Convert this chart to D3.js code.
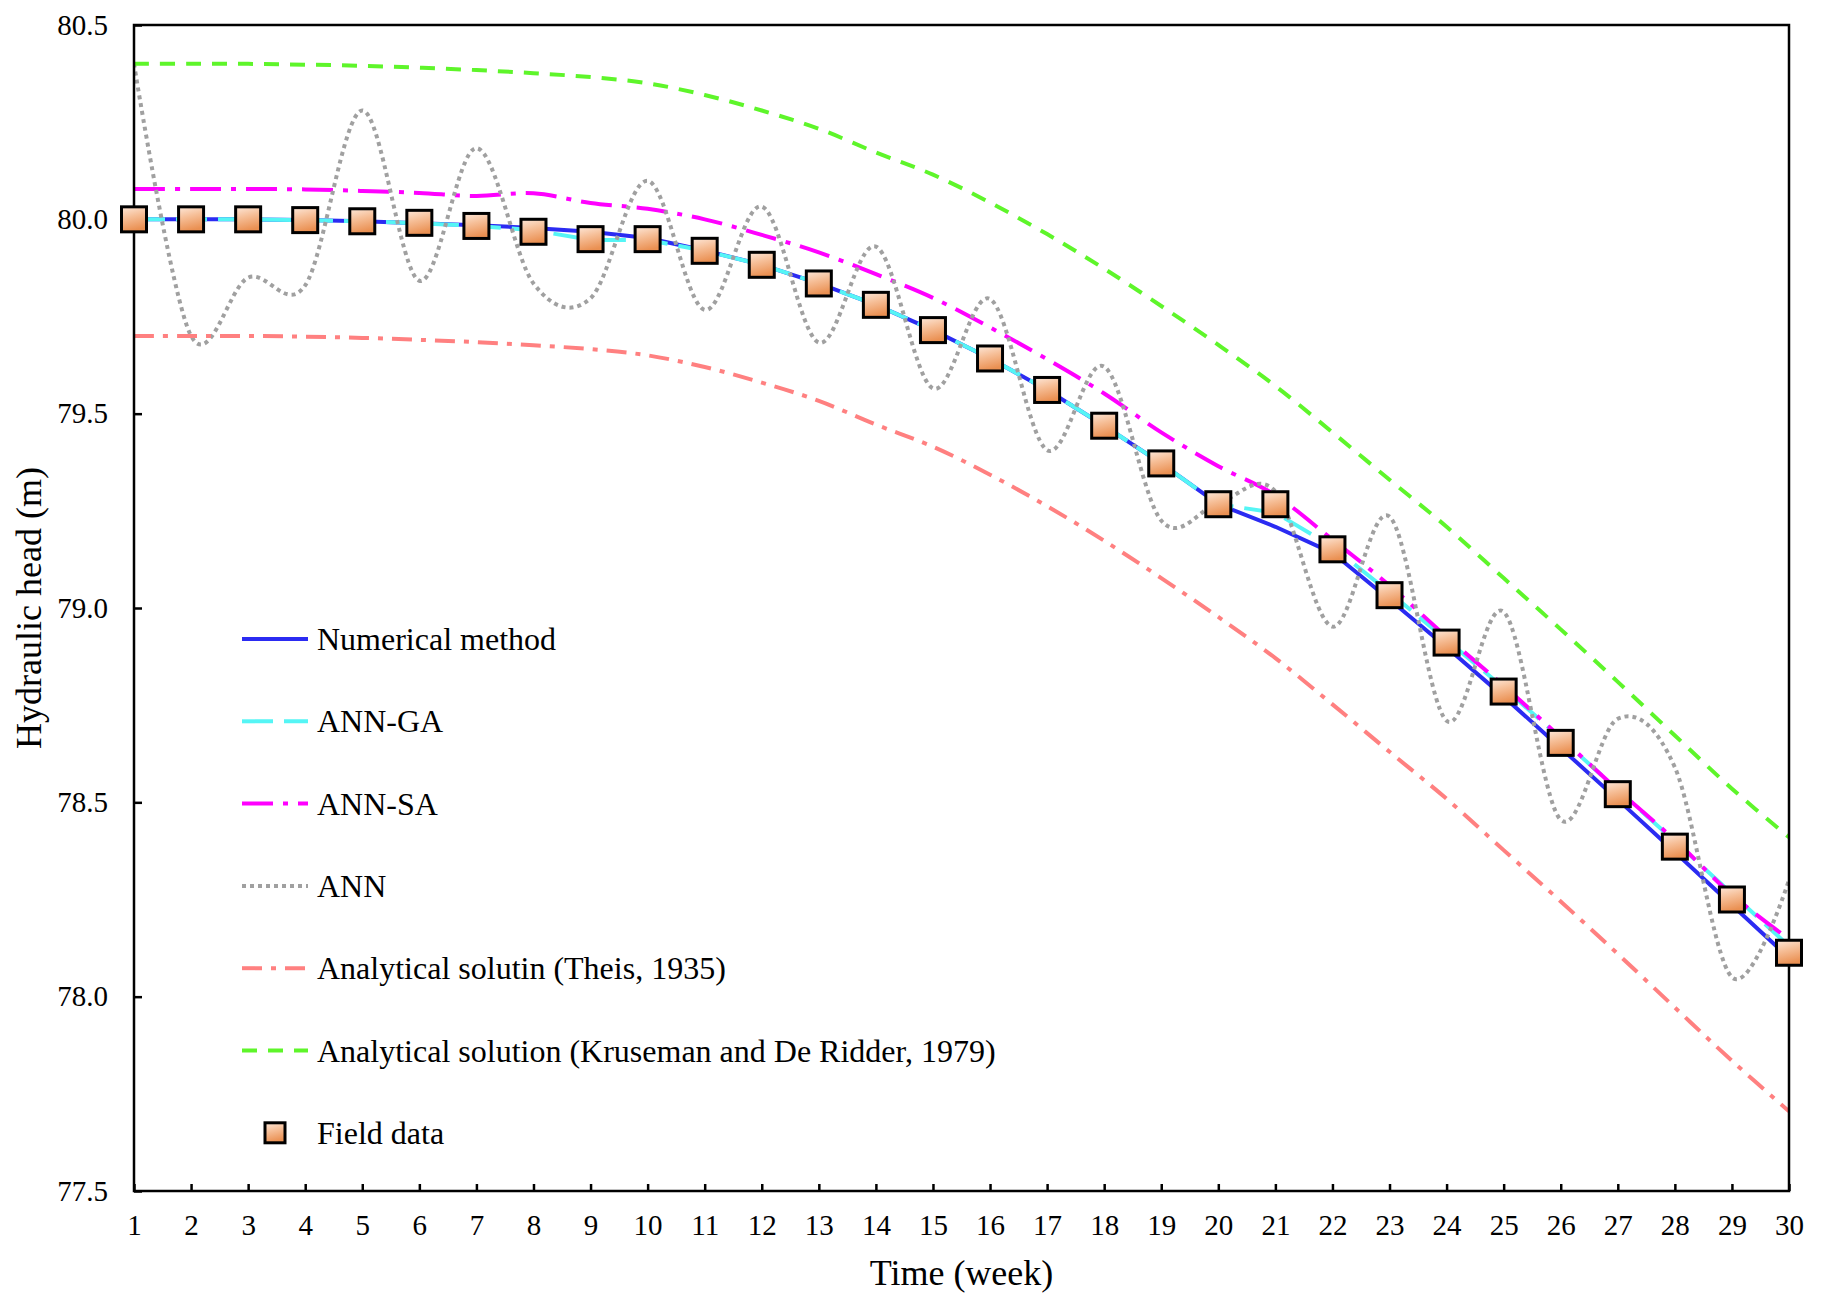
<!DOCTYPE html>
<html><head><meta charset="utf-8">
<script src="https://cdn.jsdelivr.net/npm/d3@7"></script>
<style>
body{margin:0;background:#fff}
svg{display:block}
text{font-family:"Liberation Serif","Times New Roman",serif;fill:#000}
</style>
</head><body>
<svg id="chart" width="1827" height="1296"></svg>
<script>
// ---------- data ----------
const weeks = [1,2,3,4,5,6,7,8,9,10,11,12,13,14,15,16,17,18,19,20,21,22,23,24,25,26,27,28,29,30];
const yTicks = [77.5,78.0,78.5,79.0,79.5,80.0,80.5];

const fieldData = [80.0,80.0,80.0,79.998,79.995,79.991,79.983,79.968,79.949,79.949,79.919,79.883,79.835,79.78,79.715,79.642,79.561,79.469,79.372,79.267,79.267,79.151,79.033,78.911,78.785,78.653,78.521,78.386,78.25,78.113];
const numericalMethod = [80.0,80.0,80.0,79.998,79.995,79.99,79.985,79.978,79.968,79.952,79.92,79.883,79.835,79.78,79.715,79.642,79.561,79.469,79.372,79.267,79.209,79.142,79.022,78.899,78.772,78.64,78.507,78.372,78.236,78.10];
const annGA = [80.0,80.0,80.0,79.998,79.995,79.99,79.983,79.972,79.947,79.947,79.919,79.883,79.835,79.78,79.715,79.642,79.561,79.469,79.372,79.267,79.245,79.158,79.04,78.918,78.795,78.665,78.532,78.40,78.265,78.13];
const annSA = [80.078,80.078,80.078,80.077,80.073,80.068,80.060,80.067,80.042,80.027,80.0,79.96,79.915,79.859,79.798,79.722,79.64,79.552,79.452,79.365,79.29,79.176,79.058,78.926,78.80,78.667,78.532,78.403,78.262,78.148];
const ann = [80.40,79.70,79.85,79.83,80.28,79.842,80.183,79.835,79.797,80.099,79.767,80.033,79.683,79.93,79.565,79.795,79.406,79.621,79.225,79.27,79.30,78.952,79.235,78.71,78.99,78.455,78.715,78.59,78.05,78.30];
const theis = [79.70,79.70,79.70,79.698,79.695,79.69,79.684,79.676,79.666,79.65,79.62,79.58,79.533,79.472,79.415,79.343,79.262,79.173,79.077,78.977,78.871,78.752,78.63,78.509,78.377,78.245,78.11,77.972,77.835,77.705];
const kruseman = [80.40,80.40,80.40,80.398,80.395,80.39,80.384,80.376,80.366,80.35,80.32,80.28,80.233,80.172,80.115,80.043,79.962,79.873,79.777,79.677,79.571,79.452,79.33,79.209,79.077,78.945,78.81,78.672,78.535,78.41];

const seriesNames = ["Numerical method","ANN-GA","ANN-SA","ANN","Analytical solutin (Theis, 1935)","Analytical solution (Kruseman and De Ridder, 1979)","Field data"];

// ---------- styles ----------
const lineSeries = [
  {name: seriesNames[0], values: numericalMethod, color:"#2b2bf2", dash:null, curve:d3.curveLinear},
  {name: seriesNames[1], values: annGA, color:"#55f5f5", dash:"31,11", curve:d3.curveLinear},
  {name: seriesNames[2], values: annSA, color:"#ff00ff", dash:"31,10,5,10", curve:d3.curveCardinal.tension(0)},
  {name: seriesNames[3], values: ann, color:"#a0a0a0", dash:"4,4", curve:d3.curveCardinal.tension(0)},
  {name: seriesNames[4], values: theis, color:"#ff8080", dash:"20,9,5,9", curve:d3.curveCardinal.tension(0)},
  {name: seriesNames[5], values: kruseman, color:"#5ef52a", dash:"15,11", curve:d3.curveCardinal.tension(0)}
];

const svg = d3.select("#chart");
const X0 = 134, X1 = 1789, Y0 = 25, Y1 = 1191;
const x = d3.scaleLinear().domain([1,30]).range([X0,X1]);
const y = d3.scaleLinear().domain([77.5,80.5]).range([Y1,Y0]);

// gradient for markers
const defs = svg.append("defs");
const grad = defs.append("linearGradient").attr("id","mk").attr("x1","0").attr("y1","0").attr("x2","0.25").attr("y2","1");
grad.append("stop").attr("offset","0%").attr("stop-color","#fde8da");
grad.append("stop").attr("offset","45%").attr("stop-color","#f6bf98");
grad.append("stop").attr("offset","100%").attr("stop-color","#ea9052");

// axes
const xAxis = d3.axisBottom(x).tickValues(weeks).tickSizeInner(-7).tickSizeOuter(0).tickPadding(23).tickFormat(d3.format("d"));
const gx = svg.append("g").attr("transform",`translate(0,${Y1})`).call(xAxis);
const yAxis = d3.axisLeft(y).tickValues(yTicks).tickSizeInner(-8).tickSizeOuter(0).tickPadding(26).tickFormat(d3.format(".1f"));
const gy = svg.append("g").attr("transform",`translate(${X0},0)`).call(yAxis);
[gx,gy].forEach(g=>{
  g.attr("font-family","'Liberation Serif',serif");
  g.select(".domain").remove();
  g.selectAll(".tick line").attr("stroke","#000").attr("stroke-width",2.5);
  g.selectAll(".tick text").style("font-size","29px").style("font-family","'Liberation Serif',serif").attr("fill","#000");
});

// series lines
const clip = defs.append("clipPath").attr("id","clip").append("rect").attr("x",X0).attr("y",Y0).attr("width",X1-X0).attr("height",Y1-Y0);
const plot = svg.append("g").attr("clip-path","url(#clip)");
lineSeries.forEach(s=>{
  const line = d3.line().x((d,i)=>x(weeks[i])).y(d=>y(d)).curve(s.curve);
  plot.append("path").datum(s.values)
    .attr("d",line).attr("fill","none").attr("stroke",s.color).attr("stroke-width",4)
    .attr("stroke-dasharray",s.dash).attr("stroke-linecap","butt").attr("stroke-linejoin","round");
});

// frame
svg.append("rect").attr("x",X0).attr("y",Y0).attr("width",X1-X0).attr("height",Y1-Y0)
  .attr("fill","none").attr("stroke","#000").attr("stroke-width",2.5);

// field data markers
const MS = 25;
svg.append("g").selectAll("rect").data(fieldData).join("rect")
  .attr("x",(d,i)=>x(weeks[i])-MS/2).attr("y",d=>y(d)-MS/2)
  .attr("width",MS).attr("height",MS)
  .attr("fill","url(#mk)").attr("stroke","#000").attr("stroke-width",3);

// legend
const leg = svg.append("g");
const LX0 = 242, LX1 = 308, LT = 317, LY = 639, LDY = 82.3;
lineSeries.forEach((s,i)=>{
  const yy = LY + i*LDY;
  leg.append("line").attr("x1",LX0).attr("x2",LX1).attr("y1",yy).attr("y2",yy)
    .attr("stroke",s.color).attr("stroke-width",4).attr("stroke-dasharray",s.dash);
  leg.append("text").attr("x",LT).attr("y",yy+11).style("font-size","32px").text(s.name);
});
{
  const yy = LY + 6*LDY;
  leg.append("rect").attr("x",275-10).attr("y",yy-10).attr("width",20).attr("height",20)
    .attr("fill","url(#mk)").attr("stroke","#000").attr("stroke-width",3);
  leg.append("text").attr("x",LT).attr("y",yy+11).style("font-size","32px").text(seriesNames[6]);
}

// axis titles
svg.append("text").attr("x",(X0+X1)/2).attr("y",1285).attr("text-anchor","middle")
  .style("font-size","36px").text("Time (week)");
svg.append("text").attr("transform",`translate(41,${(Y0+Y1)/2}) rotate(-90)`).attr("text-anchor","middle")
  .style("font-size","36px").text("Hydraulic head (m)");
</script>
</body></html>
